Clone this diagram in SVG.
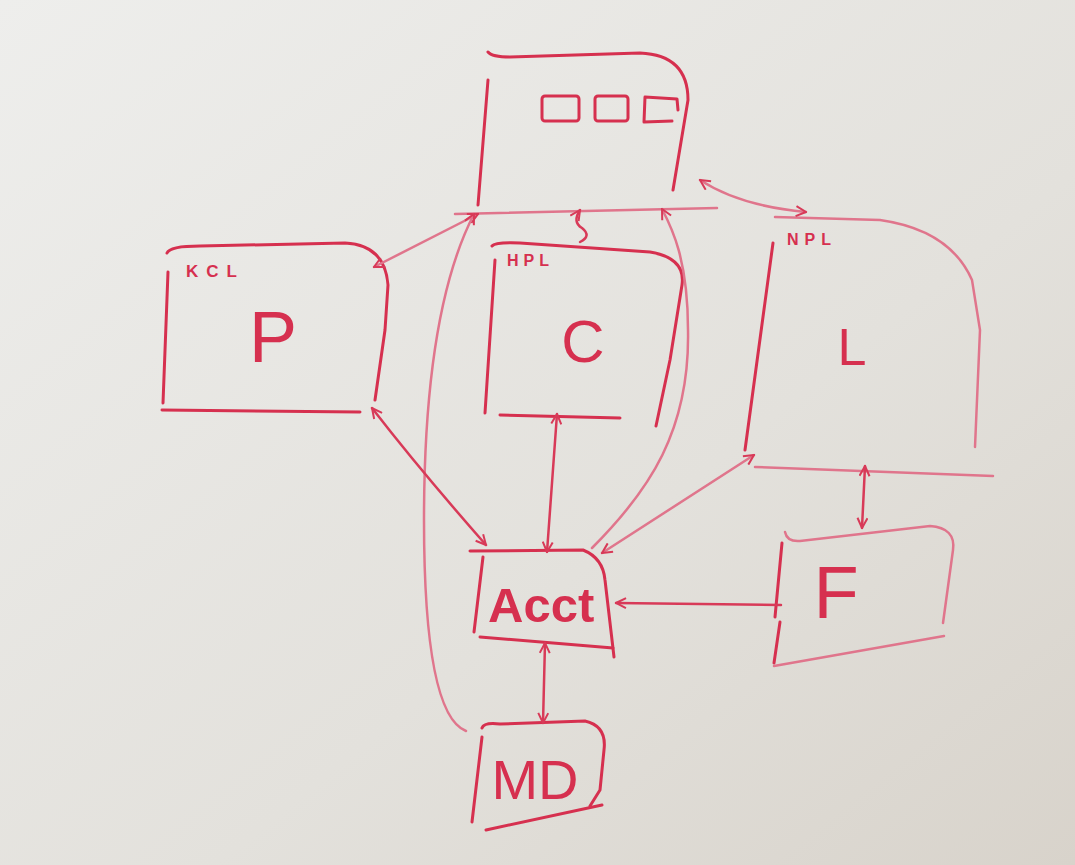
<svg xmlns="http://www.w3.org/2000/svg" width="1075" height="865" viewBox="0 0 1075 865">
<defs>
<linearGradient id="bg" x1="0" y1="0" x2="1" y2="1">
<stop offset="0" stop-color="#eeeeec"/>
<stop offset="0.6" stop-color="#e3e1dc"/>
<stop offset="1" stop-color="#d8d3cb"/>
</linearGradient>
<marker id="ah" viewBox="0 0 12 12" refX="11" refY="6" markerWidth="12" markerHeight="12" markerUnits="userSpaceOnUse" orient="auto-start-reverse">
<path d="M1,1 L11,6 L1,11" fill="none" stroke="#d83a58" stroke-width="2"/>
</marker>
</defs>
<style>
.box{fill:none;stroke:#d6304f;stroke-width:3;stroke-linecap:round;stroke-linejoin:round}
.pale{fill:none;stroke:#e0758c;stroke-width:2.5;stroke-linecap:round}
.ln{fill:none;stroke:#d83a58;stroke-width:2.5;stroke-linecap:round}
.lbl{font-family:"Liberation Sans",Arial,sans-serif;fill:#d6304f;font-weight:bold}
.big{font-family:"Liberation Sans",Arial,sans-serif;fill:#d6304f}
</style>
<rect width="1075" height="865" fill="url(#bg)"/>

<g id="node-top">
<path class="box" d="M488,52 Q492,57 510,57 L640,53 Q688,55 688,100 L673,190"/>
<path class="box" d="M488,80 L478,205"/>
<path class="pale" d="M455,214 L717,208"/>
<rect class="box" x="542" y="96" width="37" height="25" rx="3"/>
<rect class="box" x="595" y="96" width="33" height="25" rx="3"/>
<path class="box" d="M678,110 L677,99 L645,97 L644,122 L672,121"/>
</g>

<g id="node-kcl">
<path class="box" d="M167,253 Q170,246 200,246 L345,243 Q385,245 388,285 L385,330 L375,400"/>
<path class="box" d="M168,272 L163,403"/>
<path class="box" d="M162,410 L360,412"/>
<text class="lbl" x="186" y="277" font-size="17" letter-spacing="8">KCL</text>
<text class="big" x="273" y="362" font-size="72" text-anchor="middle">P</text>
</g>

<g id="node-hpl">
<path class="box" d="M492,246 Q495,242 520,243 L650,252 Q686,258 682,285 L670,360 L656,426"/>
<path class="box" d="M495,260 L485,413"/>
<path class="box" d="M500,415 L620,418"/>
<text class="lbl" x="507" y="266" font-size="16" letter-spacing="5">HPL</text>
<text class="big" x="583" y="362" font-size="60" text-anchor="middle">C</text>
</g>

<g id="node-npl">
<path class="pale" d="M775,217 L880,220 Q950,230 972,280 L980,330 L975,447"/>
<path class="box" d="M773,243 L745,450"/>
<path class="pale" d="M755,467 L993,476"/>
<text class="lbl" x="787" y="245" font-size="16" letter-spacing="6">NPL</text>
<text class="big" x="852" y="365" font-size="52" text-anchor="middle">L</text>
</g>

<g id="node-acct">
<path class="box" d="M470,551 L583,550 Q603,558 605,580 L614,657"/>
<path class="box" d="M483,557 L474,632"/>
<path class="box" d="M480,637 L613,648"/>
<text class="lbl" x="488" y="622" font-size="49">Acct</text>
</g>

<g id="node-f">
<path class="pale" d="M785,532 Q787,542 800,541 L930,526 Q956,528 953,550 L943,623"/>
<path class="box" d="M782,543 L775,617"/>
<path class="box" d="M780,622 L774,663"/>
<path class="pale" d="M774,666 L944,636"/>
<text class="big" x="836" y="618" font-size="74" text-anchor="middle">F</text>
</g>

<g id="node-md">
<path class="box" d="M482,728 Q484,722 500,724 L585,721 Q607,726 604,750 L600,790 L590,806"/>
<path class="box" d="M482,737 L472,822"/>
<path class="box" d="M486,830 L602,805"/>
<text class="big" x="535" y="799" font-size="56" text-anchor="middle">MD</text>
</g>

<g id="connectors">
<path class="pale" d="M374,267 L478,214" marker-start="url(#ah)" marker-end="url(#ah)"/>
<path class="pale" d="M466,731 C438,720 424,650 424,520 C424,380 440,280 474,214" marker-end="url(#ah)"/>
<path class="ln" d="M580,210 Q572,222 582,228 Q592,236 580,242" marker-start="url(#ah)"/>
<path class="pale" d="M700,180 Q740,206 806,212" marker-start="url(#ah)" marker-end="url(#ah)"/>
<path class="pale" d="M592,548 C650,490 690,430 688,330 C688,260 672,228 662,209" marker-end="url(#ah)"/>
<path class="ln" d="M372,408 Q420,470 486,545" marker-start="url(#ah)" marker-end="url(#ah)"/>
<path class="ln" d="M557,414 L547,552" marker-start="url(#ah)" marker-end="url(#ah)"/>
<path class="pale" d="M754,455 L602,553" marker-start="url(#ah)" marker-end="url(#ah)"/>
<path class="ln" d="M865,466 L862,528" marker-start="url(#ah)" marker-end="url(#ah)"/>
<path class="ln" d="M781,605 L616,603" marker-end="url(#ah)"/>
<path class="ln" d="M545,643 L543,723" marker-start="url(#ah)" marker-end="url(#ah)"/>
</g>
</svg>
